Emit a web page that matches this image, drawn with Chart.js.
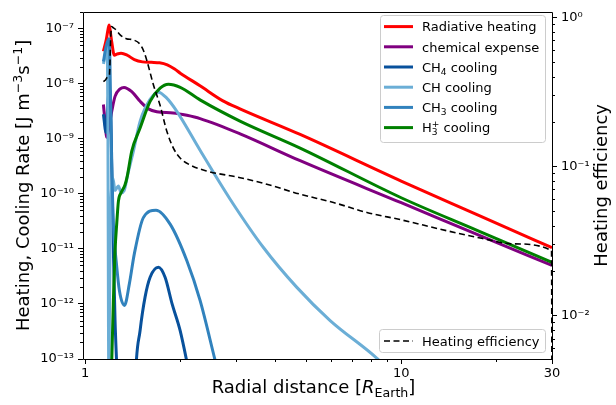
<!DOCTYPE html>
<html><head><meta charset="utf-8">
<script src="https://cdn.jsdelivr.net/npm/chart.js@4/dist/chart.umd.min.js"></script>
<style>html,body{margin:0;padding:0;background:#fff}canvas{display:block}</style>
</head><body>
<canvas id="c" width="616" height="405"></canvas>
<script>
// ---- data: [radial distance (R_Earth), value] ----
const radiativeHeating = [
  [1.143,3.9e-8],[1.168,6.5e-8],[1.183,1.0e-7],[1.192,1.17e-7],[1.203,8.5e-8],[1.213,6.0e-8],
  [1.238,3.3e-8],[1.26,3.45e-8],[1.30,3.6e-8],[1.36,3.3e-8],[1.432,2.75e-8],[1.52,2.5e-8],
  [1.62,2.45e-8],[1.72,2.4e-8],[1.82,2.2e-8],[1.92,1.85e-8],[2.0,1.56e-8],[2.31,9.2e-9],
  [2.73,4.9e-9],[3.09,3.5e-9],[4.79,1.2e-9],[10,1.71e-10],[17.3,4.25e-11],[30,1.05e-11]
];
const chemicalExpense = [
  [1.143,4.2e-9],[1.157,2.0e-9],[1.171,1.07e-9],[1.19,1.65e-9],[1.215,3.2e-9],[1.244,5.9e-9],
  [1.291,8.1e-9],[1.328,8.6e-9],[1.405,7.2e-9],[1.493,4.8e-9],[1.586,3.5e-9],[1.686,3.1e-9],
  [1.899,2.95e-9],[2.099,2.67e-9],[2.311,2.33e-9],[3.094,1.23e-9],[4.79,4.0e-10],[10,6.9e-11],
  [17.3,1.86e-11],[30,5.0e-12]
];
const ch4Cooling = [
  [1.143,2.8e-9],[1.165,1.3e-9],[1.182,4.8e-9],[1.195,8.2e-9],[1.206,3.2e-9],[1.217,1.7e-10],
  [1.231,6e-12],[1.244,5e-13],[1.258,9e-14],[1.30,1e-15],[1.42,1e-15],[1.445,5e-14],
  [1.493,3.3e-13],[1.548,1.33e-12],[1.606,3.05e-12],[1.706,4.64e-12],[1.791,3.05e-12],
  [1.885,1.0e-12],[1.998,3.3e-13],[2.16,4e-14]
];
const chCooling = [
  [1.143,2.3e-8],[1.16,3.4e-8],[1.176,4.8e-8],[1.181,2e-9],[1.186,3e-13],[1.189,5e-14],
  [1.193,3e-13],[1.200,1.5e-11],[1.212,1.2e-10],[1.224,1.94e-10],[1.244,1.15e-10],[1.262,1.3e-10],
  [1.275,1.39e-10],[1.300,1.04e-10],[1.328,1.13e-10],[1.368,2.4e-10],[1.422,6.0e-10],
  [1.493,2.08e-9],[1.606,5.2e-9],[1.706,7.05e-9],[1.804,5.65e-9],[1.951,3.16e-9],[2.311,6.2e-10],
  [2.877,8.0e-11],[3.666,1.06e-11],[4.677,2.0e-12],[5.96,5.0e-13],[8.38,1.03e-13],[9.5,5e-14]
];
const ch3Cooling = [
  [1.143,2.53e-8],[1.165,4.7e-8],[1.189,6.6e-8],[1.197,3.8e-8],[1.204,4.8e-9],[1.213,3.9e-10],
  [1.226,4e-11],[1.238,1.4e-11],[1.254,6.1e-12],[1.284,1.75e-12],[1.332,9.4e-13],[1.381,2.34e-12],
  [1.432,8.2e-12],[1.529,3.7e-11],[1.677,5.05e-11],[1.858,2.82e-11],[2.099,6.1e-12],
  [2.311,1.16e-12],[2.578,9.5e-14]
];
const h3pCooling = [
  [1.21,3e-14],[1.215,1e-13],[1.229,1.16e-12],[1.244,9.3e-12],[1.26,3.0e-11],[1.275,7.4e-11],
  [1.30,1.05e-10],[1.337,1.45e-10],[1.36,2.1e-10],[1.405,6.0e-10],[1.493,1.57e-9],[1.606,4.8e-9],
  [1.727,8.3e-9],[1.835,9.8e-9],[2.0,8.6e-9],[2.31,5.1e-9],[3.09,2.1e-9],[4.79,6.8e-10],
  [10,8.5e-11],[17.3,2.2e-11],[30,5.7e-12]
];
const heatingEfficiency = [
  [1.143,0.37],[1.16,0.38],[1.175,0.395],[1.194,0.412],[1.199,0.5],[1.204,0.688],[1.213,0.867],
  [1.225,0.855],[1.254,0.824],[1.291,0.763],[1.35,0.72],[1.422,0.706],[1.493,0.66],[1.53,0.6],
  [1.568,0.514],[1.645,0.353],[1.727,0.257],[1.814,0.172],[1.903,0.1327],[1.998,0.1138],
  [2.149,0.1022],[2.427,0.0931],[3.094,0.084],[3.758,0.0759],[4.79,0.0651],[6.107,0.0572],
  [7.79,0.0491],[10,0.0438],[13.95,0.037],[17.78,0.0331],[22.67,0.0302],[29.9,0.0272],[30,0.002]
];
const seriesNames = ['Radiative heating','chemical expense','CH₄ cooling','CH cooling','CH₃ cooling','H₃⁺ cooling','Heating efficiency'];
const xTickValues = [1, 10, 30];
const xTickLabels = ['1', '10', '30'];
const yTickValues = [1e-13,1e-12,1e-11,1e-10,1e-9,1e-8,1e-7];
const yTickLabels = ['10⁻¹³','10⁻¹²','10⁻¹¹','10⁻¹⁰','10⁻⁹','10⁻⁸','10⁻⁷'];
const y2TickValues = [1e-2,1e-1,1];
const y2TickLabels = ['10⁻²','10⁻¹','10⁰'];

const FONT = '"DejaVu Sans", sans-serif';
const toPts = a => a.map(([x, y]) => ({x, y}));
const tickLabel = (vals, labs) => (v) => { const i = vals.findIndex(t => Math.abs(t - v) / t < 1e-6); return i >= 0 ? labs[i] : ''; };

function minorTicks(lo, hi) {
  const out = [];
  for (let e = Math.floor(Math.log10(lo)); e <= Math.ceil(Math.log10(hi)); e++) {
    for (let m = 2; m <= 9; m++) { const v = m * Math.pow(10, e); if (v > lo && v < hi) out.push(v); }
  }
  return out;
}

function partsWidth(ctx, parts) {
  let w = 0, held = 0;
  for (const p of parts) {
    ctx.font = (p.it ? 'italic ' : '') + p.s + 'px ' + FONT;
    const pw = ctx.measureText(p.t).width;
    if (p.hold) { held = pw; continue; }
    w += Math.max(pw, held); held = 0;
  }
  return w;
}
function drawParts(ctx, parts, x, y) {
  let held = 0;
  for (const p of parts) {
    ctx.font = (p.it ? 'italic ' : '') + p.s + 'px ' + FONT;
    ctx.fillText(p.t, x, y + (p.dy || 0));
    const pw = ctx.measureText(p.t).width;
    if (p.hold) { held = pw; continue; }
    x += Math.max(pw, held); held = 0;
  }
}
function roundRect(ctx, x, y, w, h, r) {
  ctx.beginPath();
  ctx.moveTo(x + r, y); ctx.lineTo(x + w - r, y); ctx.arcTo(x + w, y, x + w, y + r, r);
  ctx.lineTo(x + w, y + h - r); ctx.arcTo(x + w, y + h, x + w - r, y + h, r);
  ctx.lineTo(x + r, y + h); ctx.arcTo(x, y + h, x, y + h - r, r);
  ctx.lineTo(x, y + r); ctx.arcTo(x, y, x + r, y, r); ctx.closePath();
}

const COLORS = ['#ff0000', '#800080', '#08519c', '#6baed6', '#3182bd', '#008000', '#000000'];
const L = 13, LS = 9.1;
const legendParts = [
  [{t:'Radiative heating', s:L}],
  [{t:'chemical expense', s:L}],
  [{t:'CH', s:L}, {t:'4', s:LS, dy:3}, {t:' cooling', s:L}],
  [{t:'CH cooling', s:L}],
  [{t:'CH', s:L}, {t:'3', s:LS, dy:3}, {t:' cooling', s:L}],
  [{t:'H', s:L}, {t:'3', s:LS, dy:3, hold:true}, {t:'+', s:LS, dy:-5}, {t:' cooling', s:L}]
];

const decor = {
  id: 'decor',
  afterDraw(chart) {
    const ctx = chart.ctx, a = chart.chartArea;
    const sx = chart.scales.x, sy = chart.scales.y, sy2 = chart.scales.y2;
    ctx.save();
    ctx.strokeStyle = '#000'; ctx.lineWidth = 1;
    ctx.beginPath();
    for (const v of minorTicks(sx.min, sx.max)) { if (xTickValues.includes(v)) continue; const p = Math.round(sx.getPixelForValue(v)) + 0.5; ctx.moveTo(p, a.bottom); ctx.lineTo(p, a.bottom + 3); }
    for (const v of minorTicks(sy.min, sy.max)) { const p = Math.round(sy.getPixelForValue(v)) + 0.5; ctx.moveTo(a.left, p); ctx.lineTo(a.left - 3, p); }
    for (const v of minorTicks(sy2.min, sy2.max)) { const p = Math.round(sy2.getPixelForValue(v)) + 0.5; ctx.moveTo(a.right, p); ctx.lineTo(a.right + 3, p); }
    ctx.stroke();
    // frame
    ctx.beginPath();
    ctx.rect(Math.round(a.left) + 0.5, Math.round(a.top) + 0.5, Math.round(a.right - a.left), Math.round(a.bottom - a.top));
    ctx.stroke();

    // legend 1
    ctx.fillStyle = 'rgba(255,255,255,0.8)'; ctx.strokeStyle = '#cccccc'; ctx.lineWidth = 1;
    roundRect(ctx, 380.5, 15.5, 165, 127, 3); ctx.fill(); ctx.stroke();
    ctx.textBaseline = 'alphabetic'; ctx.textAlign = 'left';
    legendParts.forEach((parts, i) => {
      const y = 26.6 + i * 20.2;
      ctx.strokeStyle = COLORS[i]; ctx.lineWidth = 3; ctx.setLineDash([]);
      ctx.beginPath(); ctx.moveTo(384, y); ctx.lineTo(413, y); ctx.stroke();
      ctx.fillStyle = '#000';
      drawParts(ctx, parts, 422, y + 4.7);
    });
    // legend 2
    ctx.fillStyle = 'rgba(255,255,255,0.8)'; ctx.strokeStyle = '#cccccc'; ctx.lineWidth = 1;
    roundRect(ctx, 379.5, 329.5, 166, 23, 3); ctx.fill(); ctx.stroke();
    ctx.strokeStyle = '#000'; ctx.lineWidth = 1.6; ctx.setLineDash([6, 3.5]);
    ctx.beginPath(); ctx.moveTo(384, 341); ctx.lineTo(413, 341); ctx.stroke();
    ctx.setLineDash([]);
    ctx.fillStyle = '#000';
    drawParts(ctx, [{t:'Heating efficiency', s:L}], 422, 341 + 4.7);

    // axis titles
    const T = 18, TS = 12.6;
    const xt = [{t:'Radial distance [', s:T}, {t:'R', s:T, it:true}, {t:'Earth', s:TS, dy:4}, {t:']', s:T}];
    const cx = (a.left + a.right) / 2 - 4, cy = (a.top + a.bottom) / 2;
    drawParts(ctx, xt, cx - partsWidth(ctx, xt) / 2, 393);
    const yt = [{t:'Heating, Cooling Rate [J m', s:T}, {t:'−3', s:TS, dy:-7}, {t:'s', s:T}, {t:'−1', s:TS, dy:-7}, {t:']', s:T}];
    ctx.save(); ctx.translate(29, cy); ctx.rotate(-Math.PI / 2);
    drawParts(ctx, yt, -partsWidth(ctx, yt) / 2, 0); ctx.restore();
    const y2t = [{t:'Heating efficiency', s:T}];
    ctx.save(); ctx.translate(607, cy); ctx.rotate(-Math.PI / 2);
    drawParts(ctx, y2t, -partsWidth(ctx, y2t) / 2, 0); ctx.restore();
    ctx.restore();
  }
};

const lineDs = (label, data, color, order, axis) => ({
  label, data: toPts(data), borderColor: color, backgroundColor: color, borderWidth: 3,
  yAxisID: axis || 'y', order, clip: 0, pointRadius: 0, fill: false,
  cubicInterpolationMode: 'monotone', borderCapStyle: 'butt'
});

const tickFont = {family: FONT, size: 13};
const gridOpts = {display: true, drawOnChartArea: false, drawTicks: true, tickLength: 5, color: '#000', tickColor: '#000', tickWidth: 1};

new Chart(document.getElementById('c'), {
  type: 'line',
  data: {
    datasets: [
      lineDs(seriesNames[0], radiativeHeating, COLORS[0], 7),
      lineDs(seriesNames[1], chemicalExpense, COLORS[1], 6),
      lineDs(seriesNames[2], ch4Cooling, COLORS[2], 5),
      lineDs(seriesNames[3], chCooling, COLORS[3], 4),
      lineDs(seriesNames[4], ch3Cooling, COLORS[4], 3),
      lineDs(seriesNames[5], h3pCooling, COLORS[5], 2),
      Object.assign(lineDs(seriesNames[6], heatingEfficiency, COLORS[6], 1, 'y2'), {borderWidth: 1.6, borderDash: [6, 3.5]})
    ]
  },
  options: {
    responsive: false, animation: false, devicePixelRatio: 1,
    layout: {padding: {top: 10, left: 0, right: 0, bottom: 0}},
    plugins: {legend: {display: false}, tooltip: {enabled: false}},
    scales: {
      x: {
        type: 'logarithmic', min: 0.985, max: 30,
        afterBuildTicks: s => { s.ticks = xTickValues.map(v => ({value: v})); },
        afterFit: s => { s.height = 46; },
        ticks: {callback: tickLabel(xTickValues, xTickLabels), font: tickFont, color: '#000', padding: 2, autoSkip: false, maxRotation: 0},
        grid: gridOpts, border: {display: false}
      },
      y: {
        type: 'logarithmic', position: 'left', min: 1e-13, max: 2.03e-7,
        afterBuildTicks: s => { s.ticks = yTickValues.map(v => ({value: v})); },
        afterFit: s => { s.width = 83; },
        ticks: {callback: tickLabel(yTickValues, yTickLabels), font: tickFont, color: '#000', padding: 4, autoSkip: false},
        grid: gridOpts, border: {display: false}
      },
      y2: {
        type: 'logarithmic', position: 'right', min: 0.0051, max: 1.09,
        afterBuildTicks: s => { s.ticks = y2TickValues.map(v => ({value: v})); },
        afterFit: s => { s.width = 64; },
        ticks: {callback: tickLabel(y2TickValues, y2TickLabels), font: tickFont, color: '#000', padding: 4, autoSkip: false},
        grid: gridOpts, border: {display: false}
      }
    }
  },
  plugins: [decor]
});
</script>
</body></html>
